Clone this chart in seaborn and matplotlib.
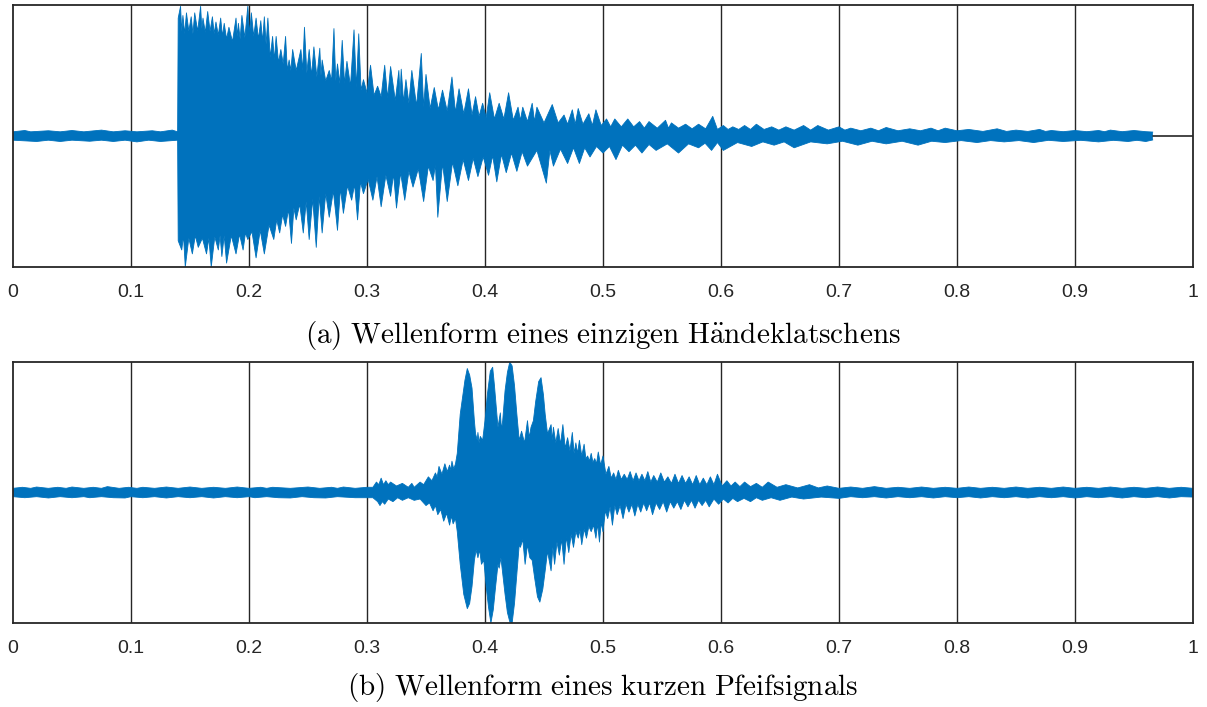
import numpy as np
import pandas as pd
import matplotlib
matplotlib.use("Agg")
import matplotlib.pyplot as plt
import seaborn as sns

# ---------------- data ----------------
# Outline of each waveform: (time in s, amplitude) for the upper edge and the
# lower edge, peaks and the dips between them.

# (a) single hand clap
clap_upper = [
    (0.000, 0.032), (0.010, 0.042), (0.015, 0.032), (0.030, 0.04), (0.040, 0.032), (0.050, 0.042),
    (0.060, 0.032), (0.075, 0.045), (0.085, 0.032), (0.095, 0.04), (0.105, 0.032), (0.118, 0.04),
    (0.125, 0.032), (0.135, 0.045), (0.1395, 0.032),
    (0.1400, 0.90), (0.1420, 0.99), (0.1430, 0.80), (0.1440, 0.92), (0.1455, 0.78), (0.1470, 0.94),
    (0.1490, 0.80), (0.1510, 0.91), (0.1525, 0.78), (0.1540, 0.94), (0.1565, 0.80), (0.1590, 0.99),
    (0.1600, 0.82), (0.1610, 0.90), (0.1630, 0.79), (0.1650, 0.95), (0.1670, 0.80), (0.1690, 0.91),
    (0.1705, 0.78), (0.1720, 0.87), (0.1740, 0.77), (0.1760, 0.90), (0.1775, 0.76), (0.1790, 0.86),
    (0.1810, 0.74), (0.1830, 0.83), (0.1860, 0.72), (0.1890, 0.90), (0.1900, 0.76), (0.1910, 0.86),
    (0.1925, 0.74), (0.1940, 0.92), (0.1965, 0.75), (0.1990, 0.99), (0.2005, 0.78), (0.2020, 0.94),
    (0.2040, 0.76), (0.2060, 0.90), (0.2080, 0.74), (0.2100, 0.88), (0.2115, 0.72), (0.2130, 0.91),
    (0.2145, 0.70), (0.2160, 0.90), (0.2180, 0.60), (0.2200, 0.76), (0.2215, 0.58), (0.2230, 0.76),
    (0.2250, 0.56), (0.2270, 0.66), (0.2290, 0.55), (0.2310, 0.76), (0.2325, 0.50), (0.2340, 0.58),
    (0.2355, 0.50), (0.2370, 0.66), (0.2400, 0.50), (0.2440, 0.66), (0.2455, 0.50), (0.2470, 0.83),
    (0.2490, 0.48), (0.2510, 0.66), (0.2530, 0.46), (0.2550, 0.68), (0.2575, 0.45), (0.2600, 0.67),
    (0.2610, 0.46), (0.2620, 0.58), (0.2650, 0.42), (0.2680, 0.50), (0.2700, 0.42), (0.2720, 0.82),
    (0.2735, 0.42), (0.2750, 0.55), (0.2770, 0.40), (0.2790, 0.73), (0.2810, 0.40), (0.2830, 0.57),
    (0.2860, 0.38), (0.2890, 0.81), (0.2910, 0.37), (0.2930, 0.78), (0.2950, 0.35), (0.2970, 0.43),
    (0.3000, 0.33), (0.3030, 0.54), (0.3060, 0.31), (0.3090, 0.38), (0.3120, 0.30), (0.3150, 0.54),
    (0.3175, 0.29), (0.3200, 0.53), (0.3240, 0.27), (0.3270, 0.50), (0.3280, 0.30), (0.3290, 0.51),
    (0.3310, 0.26), (0.3330, 0.43), (0.3355, 0.25), (0.3380, 0.50), (0.3420, 0.23), (0.3460, 0.63),
    (0.3480, 0.22), (0.3500, 0.47), (0.3535, 0.21), (0.3570, 0.37), (0.3605, 0.20), (0.3640, 0.35),
    (0.3680, 0.19), (0.3720, 0.45), (0.3750, 0.18), (0.3780, 0.36), (0.3820, 0.17), (0.3860, 0.36),
    (0.3890, 0.16), (0.3920, 0.30), (0.3950, 0.15), (0.3980, 0.25), (0.4010, 0.14), (0.4040, 0.33),
    (0.4080, 0.13), (0.4120, 0.25), (0.4160, 0.13), (0.4200, 0.33), (0.4240, 0.12), (0.4280, 0.22),
    (0.4300, 0.12), (0.4320, 0.22), (0.4360, 0.11), (0.4400, 0.25), (0.4420, 0.11), (0.4440, 0.22),
    (0.4500, 0.10), (0.4570, 0.24), (0.4620, 0.10), (0.4670, 0.16), (0.4700, 0.09), (0.4740, 0.20),
    (0.4765, 0.09), (0.4790, 0.21), (0.4830, 0.09), (0.4880, 0.17), (0.4910, 0.08), (0.4940, 0.20),
    (0.4985, 0.08), (0.5030, 0.13), (0.5065, 0.07), (0.5100, 0.13), (0.5155, 0.07), (0.5210, 0.13),
    (0.5260, 0.07), (0.5310, 0.11), (0.5350, 0.06), (0.5390, 0.11), (0.5460, 0.06), (0.5530, 0.12),
    (0.5555, 0.06), (0.5580, 0.10), (0.5640, 0.06), (0.5700, 0.09), (0.5755, 0.055), (0.5810, 0.09),
    (0.5870, 0.055), (0.5930, 0.15), (0.5970, 0.05), (0.6020, 0.08), (0.6060, 0.05), (0.6100, 0.07),
    (0.6150, 0.05), (0.6200, 0.08), (0.6250, 0.05), (0.6300, 0.09), (0.6365, 0.05), (0.6430, 0.07),
    (0.6490, 0.045), (0.6550, 0.07), (0.6620, 0.045), (0.6700, 0.08), (0.6760, 0.045), (0.6820, 0.08),
    (0.6910, 0.045), (0.7000, 0.07), (0.7050, 0.045), (0.7100, 0.06), (0.7185, 0.04), (0.7270, 0.06),
    (0.7335, 0.04), (0.7400, 0.065), (0.7500, 0.04), (0.7600, 0.055), (0.7690, 0.04), (0.7780, 0.06),
    (0.7840, 0.04), (0.7900, 0.06), (0.8000, 0.04), (0.8100, 0.05), (0.8220, 0.035), (0.8340, 0.055),
    (0.8420, 0.035), (0.8500, 0.045), (0.8600, 0.035), (0.8700, 0.05), (0.8750, 0.035), (0.8800, 0.042),
    (0.8900, 0.033), (0.9000, 0.042), (0.9100, 0.033), (0.9200, 0.042), (0.9250, 0.033), (0.9300, 0.045),
    (0.9400, 0.033), (0.9500, 0.042), (0.9600, 0.033), (0.9660, 0.03)]
clap_lower = [
    (0.000, -0.032), (0.020, -0.042), (0.030, -0.032), (0.040, -0.042), (0.050, -0.032), (0.065, -0.04),
    (0.075, -0.032), (0.085, -0.042), (0.095, -0.032), (0.105, -0.045), (0.115, -0.032), (0.125, -0.042),
    (0.1395, -0.032),
    (0.1400, -0.80), (0.1430, -0.87), (0.1445, -0.76), (0.1460, -1.00), (0.1490, -0.78), (0.1520, -0.90),
    (0.1545, -0.76), (0.1570, -0.85), (0.1605, -0.78), (0.1640, -0.90), (0.1660, -0.78), (0.1680, -1.00),
    (0.1710, -0.77), (0.1740, -0.87), (0.1755, -0.76), (0.1770, -0.92), (0.1790, -0.76), (0.1810, -0.97),
    (0.1850, -0.76), (0.1890, -0.90), (0.1920, -0.75), (0.1950, -0.87), (0.1970, -0.74), (0.1990, -0.79),
    (0.2025, -0.73), (0.2060, -0.93), (0.2095, -0.72), (0.2130, -0.90), (0.2170, -0.68), (0.2210, -0.79),
    (0.2235, -0.64), (0.2260, -0.74), (0.2285, -0.60), (0.2310, -0.69), (0.2335, -0.56), (0.2360, -0.82),
    (0.2380, -0.55), (0.2400, -0.64), (0.2430, -0.52), (0.2460, -0.74), (0.2485, -0.50), (0.2510, -0.79),
    (0.2540, -0.48), (0.2570, -0.85), (0.2595, -0.46), (0.2620, -0.74), (0.2650, -0.44), (0.2680, -0.62),
    (0.2715, -0.42), (0.2750, -0.72), (0.2775, -0.40), (0.2800, -0.59), (0.2835, -0.38), (0.2870, -0.49),
    (0.2895, -0.37), (0.2920, -0.64), (0.2945, -0.35), (0.2970, -0.44), (0.3010, -0.33), (0.3050, -0.49),
    (0.3085, -0.31), (0.3120, -0.54), (0.3160, -0.30), (0.3200, -0.46), (0.3225, -0.29), (0.3250, -0.55),
    (0.3285, -0.28), (0.3320, -0.49), (0.3355, -0.27), (0.3390, -0.39), (0.3435, -0.25), (0.3480, -0.50),
    (0.3520, -0.23), (0.3560, -0.34), (0.3580, -0.22), (0.3600, -0.62), (0.3640, -0.21), (0.3680, -0.50),
    (0.3725, -0.20), (0.3770, -0.38), (0.3815, -0.18), (0.3860, -0.34), (0.3900, -0.17), (0.3940, -0.31),
    (0.3985, -0.16), (0.4030, -0.30), (0.4065, -0.15), (0.4100, -0.35), (0.4140, -0.14), (0.4180, -0.28),
    (0.4225, -0.13), (0.4270, -0.27), (0.4315, -0.12), (0.4360, -0.23), (0.4440, -0.11), (0.4520, -0.36),
    (0.4550, -0.11), (0.4580, -0.23), (0.4640, -0.10), (0.4700, -0.21), (0.4750, -0.09), (0.4800, -0.21),
    (0.4845, -0.09), (0.4890, -0.16), (0.4945, -0.08), (0.5000, -0.13), (0.5055, -0.08), (0.5110, -0.18),
    (0.5165, -0.07), (0.5220, -0.12), (0.5275, -0.07), (0.5330, -0.13), (0.5390, -0.065), (0.5450, -0.11),
    (0.5545, -0.06), (0.5640, -0.13), (0.5725, -0.06), (0.5810, -0.09), (0.5865, -0.055), (0.5920, -0.11),
    (0.5970, -0.05), (0.6020, -0.11), (0.6140, -0.05), (0.6260, -0.08), (0.6355, -0.045), (0.6450, -0.07),
    (0.6535, -0.045), (0.6620, -0.09), (0.6760, -0.045), (0.6900, -0.06), (0.7030, -0.04), (0.7160, -0.07),
    (0.7280, -0.04), (0.7400, -0.06), (0.7535, -0.04), (0.7670, -0.07), (0.7785, -0.04), (0.7900, -0.05),
    (0.8035, -0.035), (0.8170, -0.05), (0.8285, -0.035), (0.8400, -0.045), (0.8525, -0.035), (0.8650, -0.05),
    (0.8775, -0.033), (0.8900, -0.042), (0.9050, -0.033), (0.9200, -0.045), (0.9325, -0.033), (0.9450, -0.042),
    (0.9525, -0.033), (0.9600, -0.042), (0.9660, -0.03)]
clap_end = 0.966

# (b) short whistle
whistle_upper = [
    (0.000, 0.032), (0.008, 0.04), (0.015, 0.032), (0.020, 0.042), (0.030, 0.032), (0.038, 0.04),
    (0.045, 0.032), (0.050, 0.042), (0.060, 0.032), (0.068, 0.04), (0.075, 0.032), (0.080, 0.045),
    (0.090, 0.032), (0.098, 0.04), (0.105, 0.032), (0.110, 0.04), (0.120, 0.032), (0.130, 0.042),
    (0.140, 0.032), (0.150, 0.042), (0.160, 0.032), (0.170, 0.04), (0.180, 0.032), (0.190, 0.042),
    (0.200, 0.032), (0.210, 0.04), (0.215, 0.032), (0.220, 0.04), (0.235, 0.032), (0.250, 0.042),
    (0.260, 0.032), (0.270, 0.04), (0.275, 0.032), (0.280, 0.042), (0.290, 0.032), (0.300, 0.04),
    (0.305, 0.04), (0.308, 0.08), (0.310, 0.06), (0.312, 0.11), (0.314, 0.06), (0.316, 0.09),
    (0.318, 0.06), (0.320, 0.08), (0.325, 0.05), (0.330, 0.07), (0.335, 0.04), (0.338, 0.07),
    (0.340, 0.04), (0.345, 0.08), (0.348, 0.06), (0.352, 0.12), (0.355, 0.09), (0.358, 0.15),
    (0.3595, 0.12), (0.361, 0.20), (0.3635, 0.14), (0.366, 0.22), (0.368, 0.16), (0.370, 0.21),
    (0.371, 0.17), (0.372, 0.24), (0.3735, 0.18), (0.375, 0.22),
    (0.3765, 0.30), (0.379, 0.60), (0.383, 0.86), (0.385, 0.95), (0.387, 0.90), (0.389, 0.80),
    (0.391, 0.55), (0.392, 0.45), (0.3935, 0.40), (0.394, 0.46), (0.395, 0.38), (0.396, 0.43),
    (0.398, 0.40), (0.400, 0.55), (0.402, 0.75), (0.4045, 0.93), (0.4065, 0.96), (0.408, 0.82),
    (0.410, 0.60), (0.411, 0.50), (0.413, 0.61), (0.414, 0.48), (0.415, 0.55), (0.417, 0.78),
    (0.419, 0.92), (0.421, 1.00), (0.423, 0.97), (0.425, 0.82), (0.427, 0.60), (0.429, 0.40),
    (0.431, 0.47), (0.4335, 0.38), (0.436, 0.55), (0.4375, 0.42), (0.439, 0.50), (0.441, 0.55),
    (0.443, 0.70), (0.4455, 0.85), (0.4475, 0.88), (0.4495, 0.75), (0.451, 0.60), (0.453, 0.45),
    (0.456, 0.52), (0.457, 0.40), (0.458, 0.50), (0.460, 0.38), (0.462, 0.49), (0.464, 0.37),
    (0.466, 0.52), (0.468, 0.34), (0.470, 0.42), (0.472, 0.32), (0.474, 0.46), (0.4755, 0.30),
    (0.477, 0.38), (0.4785, 0.30), (0.480, 0.40), (0.482, 0.28), (0.484, 0.37), (0.4855, 0.26),
    (0.487, 0.28), (0.4885, 0.24), (0.490, 0.30), (0.4915, 0.23), (0.493, 0.26), (0.4945, 0.22),
    (0.496, 0.31), (0.498, 0.21), (0.500, 0.28), (0.5025, 0.14), (0.505, 0.20), (0.507, 0.11),
    (0.509, 0.15), (0.511, 0.10), (0.513, 0.17), (0.5155, 0.10), (0.518, 0.14), (0.5205, 0.10),
    (0.523, 0.16), (0.5255, 0.09), (0.528, 0.15), (0.5305, 0.09), (0.533, 0.14), (0.5355, 0.09),
    (0.538, 0.16), (0.5405, 0.08), (0.543, 0.13), (0.546, 0.08), (0.549, 0.15), (0.552, 0.08),
    (0.555, 0.12), (0.558, 0.07), (0.561, 0.14), (0.564, 0.07), (0.567, 0.13), (0.570, 0.07),
    (0.573, 0.12), (0.576, 0.06), (0.579, 0.13), (0.582, 0.06), (0.585, 0.11), (0.588, 0.06),
    (0.591, 0.12), (0.594, 0.06), (0.597, 0.14), (0.601, 0.05), (0.605, 0.09), (0.6085, 0.05),
    (0.612, 0.08), (0.616, 0.045), (0.620, 0.08), (0.625, 0.045), (0.630, 0.07), (0.635, 0.04),
    (0.640, 0.08), (0.6475, 0.04), (0.655, 0.06), (0.665, 0.035), (0.675, 0.06), (0.6825, 0.035),
    (0.690, 0.05), (0.700, 0.032), (0.710, 0.042), (0.720, 0.032), (0.730, 0.045), (0.740, 0.032),
    (0.750, 0.04), (0.760, 0.032), (0.770, 0.042), (0.780, 0.032), (0.790, 0.04), (0.800, 0.032),
    (0.810, 0.042), (0.820, 0.032), (0.830, 0.04), (0.840, 0.032), (0.850, 0.042), (0.860, 0.032),
    (0.870, 0.04), (0.880, 0.032), (0.890, 0.042), (0.900, 0.032), (0.910, 0.04), (0.920, 0.032),
    (0.930, 0.042), (0.940, 0.032), (0.950, 0.04), (0.960, 0.032), (0.970, 0.042), (0.980, 0.032),
    (0.990, 0.04), (1.000, 0.032)]
whistle_lower = [
    (0.000, -0.032), (0.010, -0.04), (0.020, -0.032), (0.030, -0.042), (0.040, -0.032), (0.050, -0.04),
    (0.060, -0.032), (0.065, -0.04), (0.075, -0.032), (0.085, -0.04), (0.095, -0.042), (0.100, -0.032),
    (0.110, -0.04), (0.120, -0.032), (0.130, -0.042), (0.140, -0.032), (0.150, -0.04), (0.160, -0.032),
    (0.170, -0.042), (0.180, -0.032), (0.190, -0.04), (0.200, -0.032), (0.205, -0.04), (0.215, -0.032),
    (0.225, -0.04), (0.235, -0.042), (0.245, -0.032), (0.255, -0.04), (0.265, -0.042), (0.275, -0.032),
    (0.290, -0.04), (0.300, -0.04),
    (0.305, -0.04), (0.309, -0.07), (0.311, -0.10), (0.313, -0.07), (0.315, -0.09), (0.318, -0.05),
    (0.322, -0.07), (0.326, -0.04), (0.330, -0.06), (0.335, -0.04), (0.340, -0.06), (0.345, -0.05),
    (0.350, -0.10), (0.353, -0.08), (0.356, -0.14), (0.358, -0.10), (0.360, -0.17), (0.3625, -0.13),
    (0.365, -0.22), (0.3675, -0.16), (0.370, -0.25), (0.3715, -0.18), (0.373, -0.24), (0.375, -0.20),
    (0.3765, -0.30), (0.379, -0.55), (0.382, -0.78), (0.385, -0.89), (0.387, -0.85), (0.389, -0.72),
    (0.391, -0.52), (0.3925, -0.44), (0.394, -0.50), (0.3955, -0.44), (0.397, -0.55), (0.399, -0.52),
    (0.401, -0.72), (0.403, -0.88), (0.405, -1.00), (0.407, -0.90), (0.409, -0.72), (0.411, -0.55),
    (0.412, -0.58), (0.4135, -0.50), (0.415, -0.62), (0.417, -0.78), (0.419, -0.92), (0.421, -0.99),
    (0.423, -1.00), (0.425, -0.85), (0.427, -0.62), (0.429, -0.40), (0.430, -0.42), (0.432, -0.36),
    (0.434, -0.55), (0.436, -0.40), (0.438, -0.50), (0.440, -0.52), (0.442, -0.65), (0.4445, -0.80),
    (0.4465, -0.84), (0.449, -0.74), (0.451, -0.60), (0.453, -0.45), (0.456, -0.60), (0.4575, -0.42),
    (0.459, -0.55), (0.461, -0.38), (0.463, -0.48), (0.465, -0.36), (0.467, -0.55), (0.469, -0.34),
    (0.471, -0.46), (0.473, -0.32), (0.475, -0.42), (0.477, -0.30), (0.479, -0.35), (0.4805, -0.29),
    (0.482, -0.40), (0.484, -0.28), (0.486, -0.35), (0.488, -0.26), (0.490, -0.30), (0.492, -0.25),
    (0.494, -0.35), (0.4955, -0.24), (0.497, -0.38), (0.4985, -0.23), (0.500, -0.30), (0.502, -0.14),
    (0.504, -0.20), (0.506, -0.11), (0.508, -0.25), (0.510, -0.10), (0.512, -0.17), (0.5145, -0.10),
    (0.517, -0.20), (0.5195, -0.09), (0.522, -0.15), (0.5245, -0.09), (0.527, -0.18), (0.5295, -0.09),
    (0.532, -0.15), (0.5345, -0.08), (0.537, -0.14), (0.5395, -0.08), (0.542, -0.17), (0.545, -0.08),
    (0.548, -0.13), (0.551, -0.07), (0.554, -0.15), (0.557, -0.07), (0.560, -0.12), (0.563, -0.07),
    (0.566, -0.13), (0.569, -0.06), (0.572, -0.11), (0.575, -0.06), (0.578, -0.12), (0.581, -0.06),
    (0.584, -0.10), (0.587, -0.06), (0.590, -0.11), (0.594, -0.05), (0.598, -0.09), (0.602, -0.05),
    (0.606, -0.08), (0.610, -0.045), (0.614, -0.07), (0.6195, -0.045), (0.625, -0.07), (0.630, -0.04),
    (0.635, -0.06), (0.6425, -0.04), (0.650, -0.06), (0.660, -0.035), (0.670, -0.05), (0.685, -0.035),
    (0.700, -0.045), (0.710, -0.032), (0.720, -0.04), (0.730, -0.032), (0.740, -0.042), (0.750, -0.032),
    (0.760, -0.04), (0.770, -0.032), (0.780, -0.042), (0.790, -0.032), (0.800, -0.04), (0.810, -0.032),
    (0.820, -0.042), (0.830, -0.032), (0.840, -0.04), (0.850, -0.032), (0.860, -0.042), (0.870, -0.032),
    (0.880, -0.04), (0.890, -0.032), (0.900, -0.042), (0.910, -0.032), (0.920, -0.04), (0.930, -0.032),
    (0.940, -0.042), (0.950, -0.032), (0.960, -0.04), (0.970, -0.032), (0.980, -0.042), (0.990, -0.032),
    (1.000, -0.035)]

x_ticks = [0, 0.1, 0.2, 0.3, 0.4, 0.5, 0.6, 0.7, 0.8, 0.9, 1]
x_tick_labels = ["0", "0.1", "0.2", "0.3", "0.4", "0.5", "0.6", "0.7", "0.8", "0.9", "1"]
captions = [r"$\mathrm{(a)\ Wellenform\ eines\ einzigen\ H\ddot{a}ndeklatschens}$",
            r"$\mathrm{(b)\ Wellenform\ eines\ kurzen\ Pfeifsignals}$"]

# ---------------- style ----------------
sns.set_theme(style="white")
plt.rcParams["font.family"] = ["Liberation Sans", "DejaVu Sans"]
plt.rcParams["mathtext.fontset"] = "cm"

BLUE = "#0072BD"
DARK = "#262626"

fig = plt.figure(figsize=(12.07, 7.07), dpi=100)
ax_a = fig.add_axes([13 / 1207, 1 - 267 / 707, 1180 / 1207, 262 / 707])
ax_b = fig.add_axes([13 / 1207, 1 - 623 / 707, 1180 / 1207, 261 / 707])


def draw(ax, upper, lower):
    up = pd.DataFrame(upper, columns=["t", "amp"])
    lo = pd.DataFrame(lower, columns=["t", "amp"])
    ax.set_xlim(0, 1)
    ax.set_ylim(-1, 1)
    for xv in x_ticks[1:-1]:
        ax.axvline(xv, color=DARK, lw=1.0, zorder=0.5)
    poly_t = list(up["t"]) + list(lo["t"][::-1])
    poly_a = list(up["amp"]) + list(lo["amp"][::-1])
    ax.fill(poly_t, poly_a, color=BLUE, lw=0, zorder=2)
    sns.lineplot(data=up, x="t", y="amp", color=BLUE, lw=0.6, sort=False,
                 estimator=None, ax=ax, zorder=2)
    sns.lineplot(data=lo, x="t", y="amp", color=BLUE, lw=0.6, sort=False,
                 estimator=None, ax=ax, zorder=2)
    ax.set_xticks(x_ticks)
    ax.set_xticklabels(x_tick_labels)
    ax.set_yticks([])
    ax.set_xlabel("")
    ax.set_ylabel("")
    ax.tick_params(axis="x", length=0, pad=12, labelsize=14, labelcolor=DARK)
    for s in ax.spines.values():
        s.set_color(DARK)
        s.set_linewidth(1.3)
        s.set_visible(True)
    ax.set_facecolor("white")


draw(ax_a, clap_upper, clap_lower)
sns.lineplot(x=[clap_end, 1.0], y=[0.0, 0.0], color=DARK, lw=1.2, ax=ax_a, zorder=2)
ax_a.set_xlim(0, 1)
ax_a.set_xlabel("")
ax_a.set_ylabel("")
draw(ax_b, whistle_upper, whistle_lower)

fig.text(603 / 1207, 1 - 335 / 707, captions[0], ha="center", va="center",
         fontsize=21, color="black")
fig.text(603 / 1207, 1 - 688 / 707, captions[1], ha="center", va="center",
         fontsize=21, color="black")

fig.savefig("out.png", dpi=100, facecolor="white")
